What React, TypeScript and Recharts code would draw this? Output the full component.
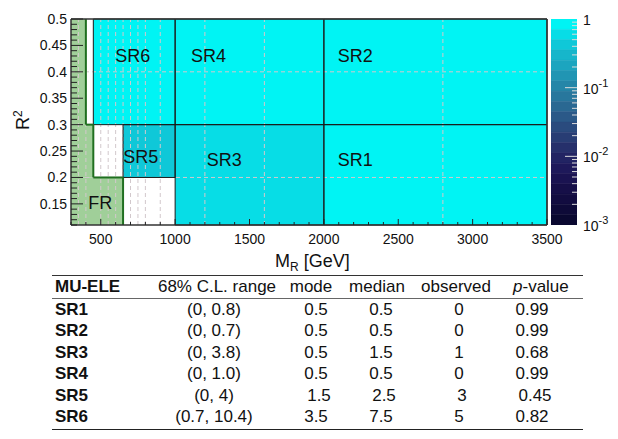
import React from 'react';
import { ComposedChart, XAxis, YAxis, ReferenceArea, ReferenceLine, Scatter } from 'recharts';

// ---------- plot data ----------
const X_DOMAIN: [number, number] = [300, 3500];
const Y_DOMAIN: [number, number] = [0.11, 0.5];

const regionNames = ['SR1', 'SR2', 'SR3', 'SR4', 'SR5', 'SR6'];
const regionMrLow = [2000, 2000, 1000, 1000, 650, 450];
const regionMrHigh = [3500, 3500, 2000, 2000, 1000, 1000];
const regionR2Low = [0.11, 0.3, 0.11, 0.3, 0.2, 0.3];
const regionR2High = [0.3, 0.5, 0.3, 0.5, 0.3, 0.5];

// fit region (staircase)
const frMrHigh = [400, 450, 650];
const frR2Low = [0.3, 0.2, 0.11];
const frR2High = [0.5, 0.3, 0.2];
const frBoundaryMr = [400, 400, 450, 450, 650, 650];
const frBoundaryR2 = [0.5, 0.3, 0.3, 0.2, 0.2, 0.11];

// underlying bin edges (dashed grid)
const binEdgesMr = [350, 400, 500, 550, 600, 650, 700, 750, 800, 900, 1200, 1600, 2800];
const binEdgesR2 = [0.2, 0.4];

// region labels
const labelNames = ['SR6', 'SR4', 'SR2', 'SR5', 'SR3', 'SR1', 'FR'];
const labelMr = [597, 1107, 2094, 652, 1212, 2094, 416];
const labelR2 = [0.419, 0.419, 0.419, 0.2275, 0.2225, 0.2225, 0.1395];

// axis ticks
const xTickValues = Array.from({ length: 33 }, (_, i) => 300 + i * 100);
const xTickLabels = ['500', '1000', '1500', '2000', '2500', '3000', '3500'];
const yTickValues = Array.from({ length: 40 }, (_, i) => Math.round((0.11 + i * 0.01) * 100) / 100);
const yTickLabels = ['0.15', '0.2', '0.25', '0.3', '0.35', '0.4', '0.45', '0.5'];

// colour palette (top = 1, bottom = 1e-3), 20 log-spaced bands
const palette = [
  '#00f4f4', '#07dde6', '#0fc8d8', '#16b6cb', '#1ca5bf', '#2195b3', '#2586a8', '#28779d',
  '#2a6892', '#2b5988', '#2a4b7e', '#283d74', '#26306b', '#222463', '#1e195a', '#1a1351',
  '#160f48', '#120c40', '#0e0a38', '#0a0830',
];
const cbTickValues = [1, 0.9, 0.8, 0.7, 0.6, 0.5, 0.4, 0.3, 0.2, 0.1,
  0.09, 0.08, 0.07, 0.06, 0.05, 0.04, 0.03, 0.02, 0.01,
  0.009, 0.008, 0.007, 0.006, 0.005, 0.004, 0.003, 0.002, 0.001];

// ---------- table data ----------
const tableTitle = 'MU-ELE';
const tableHeaders = ['68% C.L. range', 'mode', 'median', 'observed'];
const clRanges = ['(0, 0.8)', '(0, 0.7)', '(0, 3.8)', '(0, 1.0)', '(0, 4)', '(0.7, 10.4)'];
const modes = ['0.5', '0.5', '0.5', '0.5', '1.5', '3.5'];
const medians = ['0.5', '0.5', '1.5', '0.5', '2.5', '7.5'];
const observedCounts = ['0', '0', '1', '0', '3', '5'];
const pValues = [0.99, 0.99, 0.68, 0.99, 0.45, 0.82];

const AXIS_FONT = "'Liberation Sans', Arial, Helvetica, sans-serif";
const TABLE_FONT = "'Liberation Sans', Arial, sans-serif";

const colorForP = (p: number) => {
  const step = 3 / palette.length;
  const idx = Math.min(palette.length - 1, Math.max(0, Math.floor(-Math.log10(p) / step)));
  return palette[idx];
};

// plot-area geometry (pixels inside each chart svg)
const PLOT_LEFT = 71;
const PLOT_RIGHT = 547;
const PLOT_TOP = 19;
const PLOT_BOTTOM = 225;
const CB_LEFT = 551;
const CB_RIGHT = 577;

const XTick = (props: any) => {
  const { payload } = props;
  const v = payload.value;
  const x = payload.coordinate ?? props.x;
  const y = PLOT_BOTTOM;
  const major = v % 500 === 0;
  const label = xTickLabels.find((l) => Number(l) === v);
  return (
    <g>
      <line x1={x} x2={x} y1={y} y2={y - (major ? 6 : 3)} stroke="#222" strokeWidth={1} />
      {label && (
        <text x={x} y={y + 18.5} textAnchor="middle" fontSize={14} fontFamily={AXIS_FONT} fill="#111">
          {label}
        </text>
      )}
    </g>
  );
};

const YTick = (props: any) => {
  const { payload } = props;
  const v = payload.value;
  const y = payload.coordinate ?? props.y;
  const x = PLOT_LEFT;
  const major = Math.round(v * 100) % 5 === 0;
  const label = yTickLabels.find((l) => Math.abs(Number(l) - v) < 1e-9);
  return (
    <g>
      <line x1={x} x2={x + (major ? 12 : 6)} y1={y} y2={y} stroke="#222" strokeWidth={1} />
      {label && (
        <text x={x - 4} y={y + 5} textAnchor="end" fontSize={14} fontFamily={AXIS_FONT} fill="#111">
          {label}
        </text>
      )}
    </g>
  );
};

const CbTick = (props: any) => {
  const { payload } = props;
  const v = payload.value;
  const y = payload.coordinate ?? props.y;
  const x = CB_RIGHT;
  const lg = Math.log10(v);
  const isDecade = Math.abs(lg - Math.round(lg)) < 1e-9;
  const isEdge = v === 1 || Math.abs(v - 0.001) < 1e-12;
  return (
    <g>
      {!isEdge && (
        <line x1={x - (isDecade ? 12 : 5)} x2={x} y1={y} y2={y} stroke="#dcdcdc" strokeWidth={1} />
      )}
      {isDecade && (
        <text x={x + 6} y={y + 6} fontSize={14} fontFamily={AXIS_FONT} fill="#111">
          {v === 1 ? (
            '1'
          ) : (
            <>
              10
              <tspan dy={-7} fontSize={11}>
                {String(Math.round(lg))}
              </tspan>
            </>
          )}
        </text>
      )}
    </g>
  );
};

const labelPoints = labelNames.map((n, i) => ({ x: labelMr[i], y: labelR2[i], name: n }));

const LabelShape = (props: any) => (
  <text x={props.cx} y={props.cy} fontSize={18} fontFamily={AXIS_FONT} fill="#111">
    {props.payload.name}
  </text>
);

const MainPlot = () => {
  const borderSegs: any[] = [];
  regionNames.forEach((_, i) => {
    const a = regionMrLow[i], b = regionMrHigh[i], c = regionR2Low[i], d = regionR2High[i];
    borderSegs.push([{ x: a, y: c }, { x: b, y: c }]);
    borderSegs.push([{ x: a, y: d }, { x: b, y: d }]);
    borderSegs.push([{ x: a, y: c }, { x: a, y: d }]);
    borderSegs.push([{ x: b, y: c }, { x: b, y: d }]);
  });
  const frSegs: any[] = [];
  for (let i = 0; i < frBoundaryMr.length - 1; i++) {
    frSegs.push([
      { x: frBoundaryMr[i], y: frBoundaryR2[i] },
      { x: frBoundaryMr[i + 1], y: frBoundaryR2[i + 1] },
    ]);
  }
  const frameSegs = [
    [{ x: X_DOMAIN[0], y: Y_DOMAIN[0] }, { x: X_DOMAIN[1], y: Y_DOMAIN[0] }],
    [{ x: X_DOMAIN[0], y: Y_DOMAIN[1] }, { x: X_DOMAIN[1], y: Y_DOMAIN[1] }],
    [{ x: X_DOMAIN[0], y: Y_DOMAIN[0] }, { x: X_DOMAIN[0], y: Y_DOMAIN[1] }],
    [{ x: X_DOMAIN[1], y: Y_DOMAIN[0] }, { x: X_DOMAIN[1], y: Y_DOMAIN[1] }],
  ];
  return (
    <ComposedChart width={618} height={275} margin={{ top: PLOT_TOP, right: 618 - PLOT_RIGHT, bottom: 20, left: PLOT_LEFT - 40 }}>
      <XAxis
        type="number"
        dataKey="x"
        domain={X_DOMAIN}
        allowDataOverflow
        ticks={xTickValues}
        interval={0}
        tick={(p: any) => <XTick {...p} />}
        tickLine={false}
        axisLine={false}
        height={30}
      />
      <YAxis
        type="number"
        dataKey="y"
        domain={Y_DOMAIN}
        allowDataOverflow
        ticks={yTickValues}
        interval={0}
        tick={(p: any) => <YTick {...p} />}
        tickLine={false}
        axisLine={false}
        width={40}
      />
      {frMrHigh.map((xh, i) => (
        <ReferenceArea
          key={'fr' + i}
          x1={X_DOMAIN[0]}
          x2={xh}
          y1={frR2Low[i]}
          y2={frR2High[i]}
          fill="#a0cf99"
          fillOpacity={1}
          stroke="none"
          ifOverflow="hidden"
        />
      ))}
      {regionNames.map((n, i) => (
        <ReferenceArea
          key={n}
          x1={regionMrLow[i]}
          x2={regionMrHigh[i]}
          y1={regionR2Low[i]}
          y2={regionR2High[i]}
          fill={colorForP(pValues[i])}
          fillOpacity={1}
          stroke="none"
          ifOverflow="hidden"
        />
      ))}
      {binEdgesMr.map((v) => (
        <ReferenceLine key={'gx' + v} x={v} stroke="#d2c8cc" strokeDasharray="4 3" strokeWidth={1} />
      ))}
      {binEdgesR2.map((v) => (
        <ReferenceLine key={'gy' + v} y={v} stroke="#d2c8cc" strokeDasharray="4 3" strokeWidth={1} />
      ))}
      {borderSegs.map((s, i) => (
        <ReferenceLine key={'b' + i} segment={s} stroke="#1a1a1a" strokeWidth={1} ifOverflow="visible" />
      ))}
      {frSegs.map((s, i) => (
        <ReferenceLine key={'f' + i} segment={s} stroke="#1f6f1f" strokeWidth={2} ifOverflow="visible" />
      ))}
      {frameSegs.map((s, i) => (
        <ReferenceLine key={'fr' + i} segment={s} stroke="#333" strokeWidth={1.5} ifOverflow="visible" />
      ))}
      <Scatter data={labelPoints} dataKey="y" isAnimationActive={false} shape={(p: any) => <LabelShape {...p} />} />
    </ComposedChart>
  );
};

const ColorBar = () => {
  const step = 3 / palette.length;
  return (
    <ComposedChart width={618} height={275} margin={{ top: PLOT_TOP, right: 618 - CB_RIGHT - 40, bottom: 50, left: CB_LEFT }}>
      <XAxis type="number" dataKey="x" domain={[0, 1]} hide allowDataOverflow />
      <YAxis
        type="number"
        dataKey="y"
        scale="log"
        domain={[0.001, 1]}
        allowDataOverflow
        orientation="right"
        width={40}
        ticks={cbTickValues}
        interval={0}
        tick={(p: any) => <CbTick {...p} />}
        tickLine={false}
        axisLine={false}
      />
      {palette.map((c, i) => (
        <ReferenceArea
          key={c + i}
          x1={0}
          x2={1}
          y1={Math.pow(10, -(i + 1) * step)}
          y2={Math.pow(10, -i * step)}
          fill={c}
          fillOpacity={1}
          stroke={c}
          strokeWidth={0.5}
          ifOverflow="hidden"
        />
      ))}
    </ComposedChart>
  );
};

const AxisTitles = () => (
  <svg width={618} height={275} style={{ position: 'absolute', left: 0, top: 0, pointerEvents: 'none' }}>
    <text x={275} y={267} fontSize={18} fontFamily={AXIS_FONT} fill="#111">
      M
      <tspan dy={4} fontSize={12}>
        R
      </tspan>
      <tspan dy={-4}> [GeV]</tspan>
    </text>
    <text transform="translate(29,130) rotate(-90)" fontSize={18} fontFamily={AXIS_FONT} fill="#111">
      R
      <tspan dy={-7} fontSize={12}>
        2
      </tspan>
    </text>
  </svg>
);

const headerCenters = [217, 311, 377, 456];
const headerWidths = [128, 50, 62, 80];
const valueCenters = [214, 316, 381, 459, 532];
const valueWidths = [100, 36, 36, 30, 44];
const rowShift = [0, 0, 0, 0, 3, 0];

const Cell = ({ cx, cy, w, children }: any) => (
  <div
    style={{
      position: 'absolute',
      left: cx - w / 2,
      width: w,
      top: cy - 10,
      height: 20,
      lineHeight: '20px',
      textAlign: 'center',
      whiteSpace: 'nowrap',
    }}
  >
    {children}
  </div>
);

const Table = () => {
  const headerY = 287;
  const rowY = (i: number) => 309.5 + i * 21.5;
  return (
    <div style={{ position: 'absolute', left: 0, top: 0, width: 618, height: 439, fontFamily: TABLE_FONT, fontSize: 17, color: '#111' }}>
      <div style={{ position: 'absolute', left: 52, width: 531, top: 275, borderTop: '1.5px solid #333' }} />
      <div style={{ position: 'absolute', left: 52, width: 531, top: 298, borderTop: '1px solid #666' }} />
      <div style={{ position: 'absolute', left: 52, width: 531, top: 429, borderTop: '1.5px solid #222' }} />
      <div style={{ position: 'absolute', left: 55, top: headerY - 10, height: 20, lineHeight: '20px', fontWeight: 700 }}>{tableTitle}</div>
      {tableHeaders.map((h, i) => (
        <Cell key={h} cx={headerCenters[i]} cy={headerY} w={headerWidths[i]}>
          {h}
        </Cell>
      ))}
      <div style={{ position: 'absolute', left: 513, top: headerY - 10, height: 20, lineHeight: '20px', whiteSpace: 'nowrap' }}>
        <i>p</i>-value
      </div>
      {regionNames.map((n, i) => {
        const y = rowY(i);
        const s = rowShift[i];
        return (
          <React.Fragment key={n}>
            <div style={{ position: 'absolute', left: 55, top: y - 10, height: 20, lineHeight: '20px', fontWeight: 700 }}>{n}</div>
            <Cell cx={valueCenters[0]} cy={y} w={valueWidths[0]}>{clRanges[i]}</Cell>
            <Cell cx={valueCenters[1] + s} cy={y} w={valueWidths[1]}>{modes[i]}</Cell>
            <Cell cx={valueCenters[2] + s} cy={y} w={valueWidths[2]}>{medians[i]}</Cell>
            <Cell cx={valueCenters[3] + s} cy={y} w={valueWidths[3]}>{observedCounts[i]}</Cell>
            <Cell cx={valueCenters[4] + s} cy={y} w={valueWidths[4]}>{pValues[i].toFixed(2)}</Cell>
          </React.Fragment>
        );
      })}
    </div>
  );
};

export default function App() {
  return (
    <div style={{ position: 'absolute', left: 0, top: 0, width: 618, height: 439, background: '#fff', overflow: 'hidden' }}>
      <div style={{ position: 'absolute', left: 0, top: 0 }}>
        <MainPlot />
      </div>
      <div style={{ position: 'absolute', left: 0, top: 0 }}>
        <ColorBar />
      </div>
      <AxisTitles />
      <Table />
    </div>
  );
}
